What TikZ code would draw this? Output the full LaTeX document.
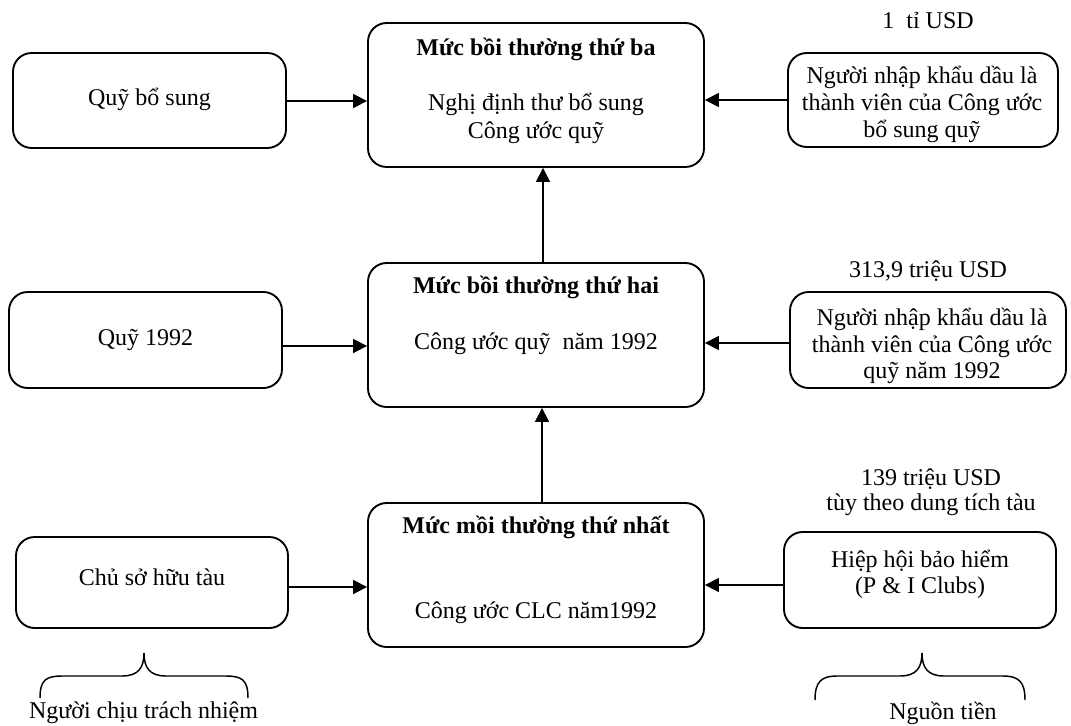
\documentclass[tikz,border=0pt]{standalone}
\usepackage{fontspec}
\setmainfont{Liberation Serif}
\usetikzlibrary{arrows.meta,fit}
\begin{document}
\begin{tikzpicture}[x=0.75pt,y=-0.75pt,
  box/.style={draw, line width=1.4pt, rounded corners=14pt, inner sep=0pt},
  txt/.style={font=\fontsize{18pt}{20pt}\selectfont, inner sep=0pt, anchor=base},
  ttl/.style={txt, font=\fontsize{18pt}{20pt}\selectfont\bfseries},
  arr/.style={line width=1.3pt, -{Triangle[length=10.5pt,width=10.5pt]}},
  brace/.style={line width=1.1pt}]
\useasboundingbox (0,0) rectangle (1071,725);
% boxes
\node[box, fit={(368,23)(704,167)}] (c3) {};
\node[box, fit={(368,263)(704,407)}] (c2) {};
\node[box, fit={(368,503)(704,647)}] (c1) {};
\node[box, fit={(13,53)(286,148)}] (l3) {};
\node[box, fit={(9,292)(282,388)}] (l2) {};
\node[box, fit={(16,537)(288,628)}] (l1) {};
\node[box, fit={(788,53)(1058,147)}] (r3) {};
\node[box, fit={(790,292)(1066,388)}] (r2) {};
\node[box, fit={(784,532)(1056,628)}] (r1) {};
% texts centre column
\node[ttl] (c3a) at (536,55) {Mức bồi thường thứ ba};
\node[txt] (c3b) at (536,110) {Nghị định thư bổ sung};
\node[txt] (c3c) at (536,138) {Công ước quỹ};
\node[ttl] (c2a) at (536,293) {Mức bồi thường thứ hai};
\node[txt] (c2b) at (536,349) {Công ước quỹ~ năm 1992};
\node[ttl] (c1a) at (536,533) {Mức mồi thường thứ nhất};
\node[txt] (c1b) at (536,618) {Công ước CLC năm1992};
% left texts
\node[txt] (l3a) at (149.5,105) {Quỹ bổ sung};
\node[txt] (l2a) at (145.5,345) {Quỹ 1992};
\node[txt] (l1a) at (152,585) {Chủ sở hữu tàu};
% right texts
\node[txt] (r3t) at (928,28) {1~ tỉ USD};
\node[txt] (r3a) at (922,83) {Người nhập khẩu dầu là};
\node[txt] (r3b) at (922,110) {thành viên của Công ước};
\node[txt] (r3c) at (922,137) {bổ sung quỹ};
\node[txt] (r2t) at (928,277) {313,9 triệu USD};
\node[txt] (r2a) at (932,325) {Người nhập khẩu dầu là};
\node[txt] (r2b) at (932,352) {thành viên của Công ước};
\node[txt] (r2c) at (932,378) {quỹ năm 1992};
\node[txt] (r1t) at (931,485) {139 triệu USD};
\node[txt] (r1u) at (931,510) {tùy theo dung tích tàu};
\node[txt] (r1a) at (920,567) {Hiệp hội bảo hiểm};
\node[txt] (r1b) at (920,593) {(P \& I Clubs)};
% bottom labels
\node[txt] (bl) at (143.5,718) {Người chịu trách nhiệm};
\node[txt] (br) at (943,719) {Nguồn tiền};
% arrow levels
\coordinate (a3l) at (0,101);
\coordinate (a2l) at (0,346);
\coordinate (a1l) at (0,587);
\coordinate (a3r) at (0,100);
\coordinate (a2r) at (0,343);
\coordinate (a1r) at (0,585);
\coordinate (v3) at (543,0);
\coordinate (v2) at (542,0);
\draw[arr] (l3.east |- a3l) -- (c3.west |- a3l);
\draw[arr] (l2.east |- a2l) -- (c2.west |- a2l);
\draw[arr] (l1.east |- a1l) -- (c1.west |- a1l);
\draw[arr] (r3.west |- a3r) -- (c3.east |- a3r);
\draw[arr] (r2.west |- a2r) -- (c2.east |- a2r);
\draw[arr] (r1.west |- a1r) -- (c1.east |- a1r);
\draw[arr] (c2.north -| v3) -- (c3.south -| v3);
\draw[arr] (c1.north -| v2) -- (c2.south -| v2);
% braces
\draw[brace] (40,698) .. controls (40,680) and (46,676) .. (62,676) -- (122,676)
  .. controls (138,676) and (144,668) .. (144,653)
  .. controls (144,668) and (150,676) .. (166,676) -- (226,676)
  .. controls (242,676) and (248,680) .. (248,698);
\draw[brace] (815,700) .. controls (815,682) and (821,676) .. (837,676) -- (900,676)
  .. controls (916,676) and (922,668) .. (922,653)
  .. controls (922,668) and (928,676) .. (944,676) -- (1003,676)
  .. controls (1019,676) and (1025,682) .. (1025,700);
\end{tikzpicture}
\end{document}
